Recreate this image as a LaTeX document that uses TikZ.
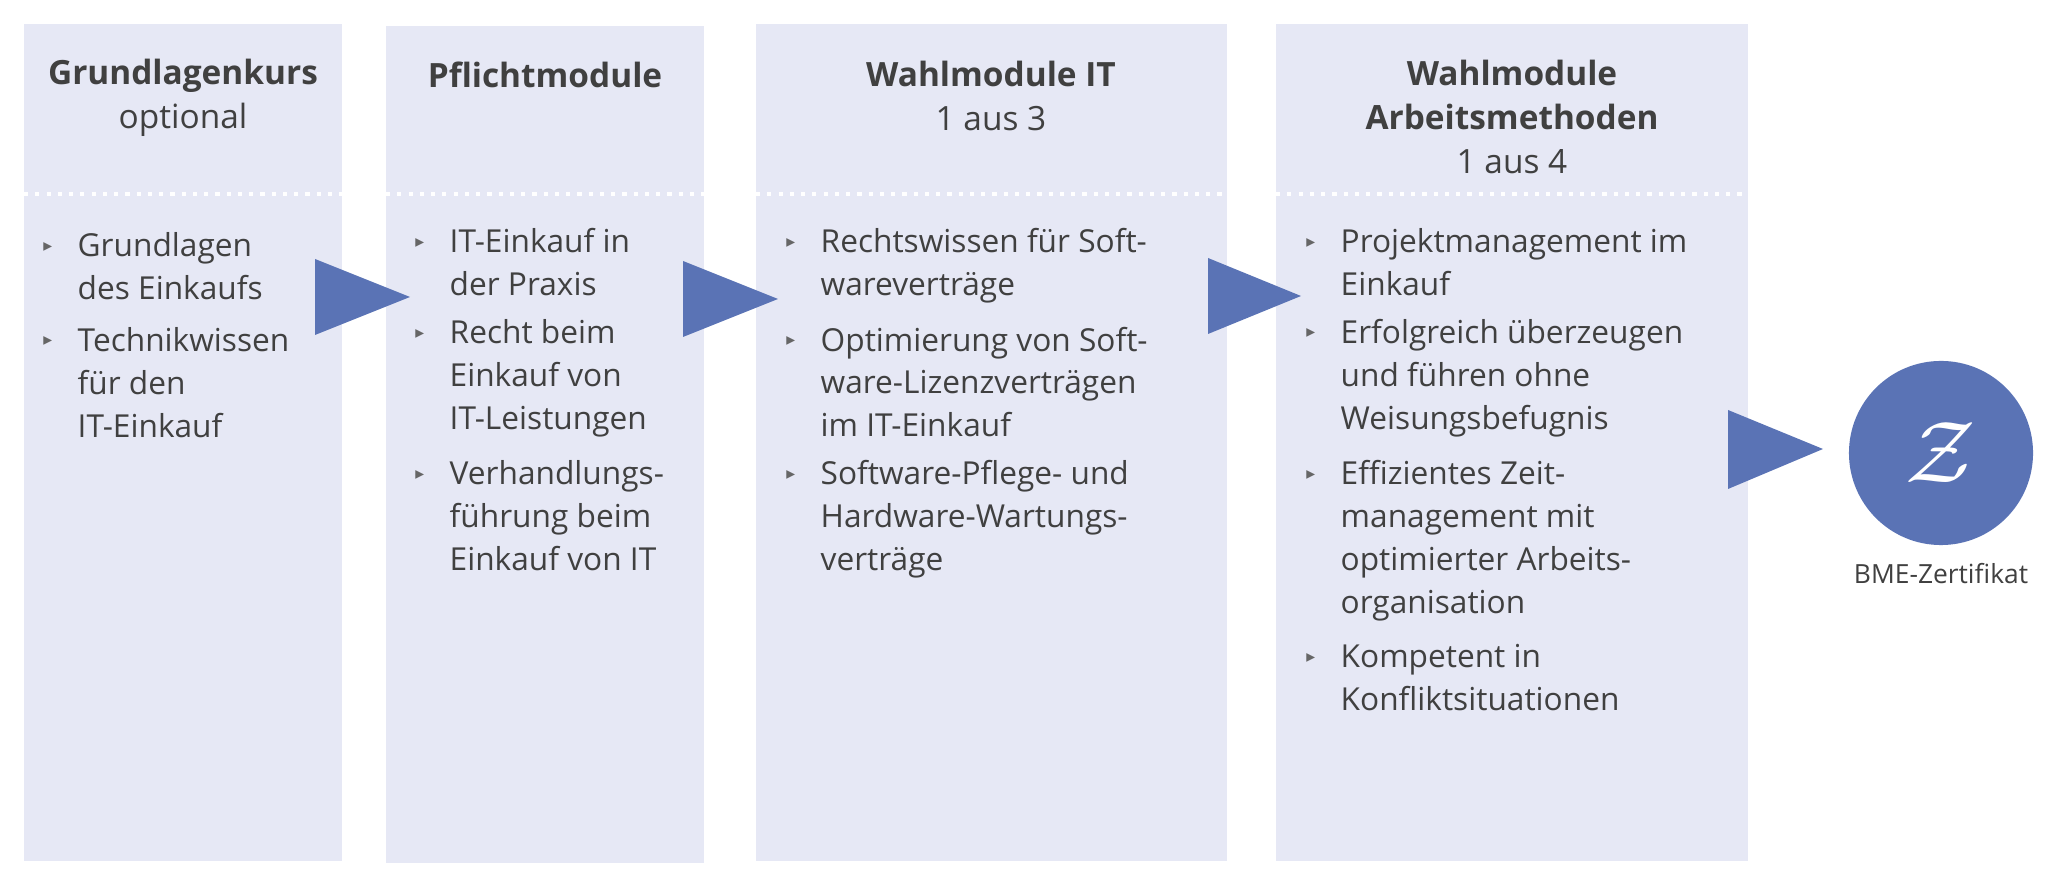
\documentclass[tikz,border=0pt]{standalone}
\usepackage{fontspec}
\setmainfont{Open Sans}
\newfontfamily\dejavu{DejaVu Sans}
\usetikzlibrary{positioning}
\definecolor{panelbg}{HTML}{E6E8F5}
\definecolor{zblue}{HTML}{5A73B5}
\definecolor{txt}{HTML}{404040}

\begin{document}
\begin{tikzpicture}[x=0.01cm, y=-0.01cm, every node/.style={font=\fontsize{9}{12.2}\selectfont, text=txt}]
    \tikzset{
        panel/.style={fill=panelbg, draw=none},
        title/.style={align=center, inner sep=0pt, font=\fontsize{9.5}{12.6}\selectfont},
        item/.style={anchor=north west, align=left, inner sep=0pt,
            label={[font=\dejavu\fontsize{5}{5}\selectfont, text=txt!80, inner sep=0pt, xshift=-0.24cm, yshift=-0.2cm]north west:▸}},
        arrowtri/.style={fill=zblue, draw=none}
    }
    \useasboundingbox (0,0) rectangle (2060,889);

    % Panels
    \fill[panel] (24,24) rectangle (342,861);
    \fill[panel] (386,26) rectangle (704,863);
    \fill[panel] (756,24) rectangle (1227,861);
    \fill[panel] (1276,24) rectangle (1748,861);
    \foreach \a/\b in {24/342, 386/704, 756/1227, 1276/1748}
        \draw[white, line width=1.2pt, dotted] (\a,194) -- (\b,194);

    % Titles
    \node[title] (t1) at (183,98) {\textbf{Grundlagenkurs}\\optional};
    \node[title] (t2) at (545,75) {\textbf{Pflichtmodule}};
    \node[title] (t3) at (991,96) {\textbf{Wahlmodule IT}\\1 aus 3};
    \node[title] (t4) at (1512,117) {\textbf{Wahlmodule}\\\textbf{Arbeitsmethoden}\\1 aus 4};

    % Grundlagenkurs
    \node[item] (g1) at (77,232) {Grundlagen\\des Einkaufs};
    \node[item] (g2) at ([yshift=-0.26cm]g1.south west) {Technikwissen\\für den\\IT-Einkauf};

    % Pflichtmodule
    \node[item] (p1) at (449,228) {IT-Einkauf in\\der Praxis};
    \node[item] (p2) at ([yshift=-0.22cm]p1.south west) {Recht beim\\Einkauf von\\IT-Leistungen};
    \node[item] (p3) at ([yshift=-0.22cm]p2.south west) {Verhandlungs-\\führung beim\\Einkauf von IT};

    % Wahlmodule IT
    \node[item] (w1) at (820,228) {Rechtswissen für Soft-\\wareverträge};
    \node[item] (w2) at ([yshift=-0.22cm]w1.south west) {Optimierung von Soft-\\ware-Lizenzverträgen\\im IT-Einkauf};
    \node[item] (w3) at ([yshift=-0.22cm]w2.south west) {Software-Pflege- und\\Hardware-Wartungs-\\verträge};

    % Wahlmodule Arbeitsmethoden
    \node[item] (a1) at (1340,228) {Projektmanagement im\\Einkauf};
    \node[item] (a2) at ([yshift=-0.22cm]a1.south west) {Erfolgreich überzeugen\\und führen ohne\\Weisungsbefugnis};
    \node[item] (a3) at ([yshift=-0.22cm]a2.south west) {Effizientes Zeit-\\management mit\\optimierter Arbeits-\\organisation};
    \node[item] (a4) at ([yshift=-0.22cm]a3.south west) {Kompetent in\\Konfliktsituationen};

    % Arrows
    \fill[arrowtri] (315,259) -- (410,297) -- (315,335) -- cycle;
    \fill[arrowtri] (683,261) -- (778,299) -- (683,337) -- cycle;
    \fill[arrowtri] (1208,258) -- (1301,296) -- (1208,334) -- cycle;
    \fill[arrowtri] (1728,410) -- (1823,449) -- (1728,489) -- cycle;

    % Certificate
    \node[circle, fill=zblue, minimum size=1.84cm, inner sep=0pt] (cert) at (1941,453)
        {\color{white}\fontsize{26}{26}\selectfont$\mathcal{Z}$};
    \node[font=\fontsize{7.5}{9}\selectfont] (certlbl) at (1941,574) {BME-Zertifikat};
\end{tikzpicture}
\end{document}
